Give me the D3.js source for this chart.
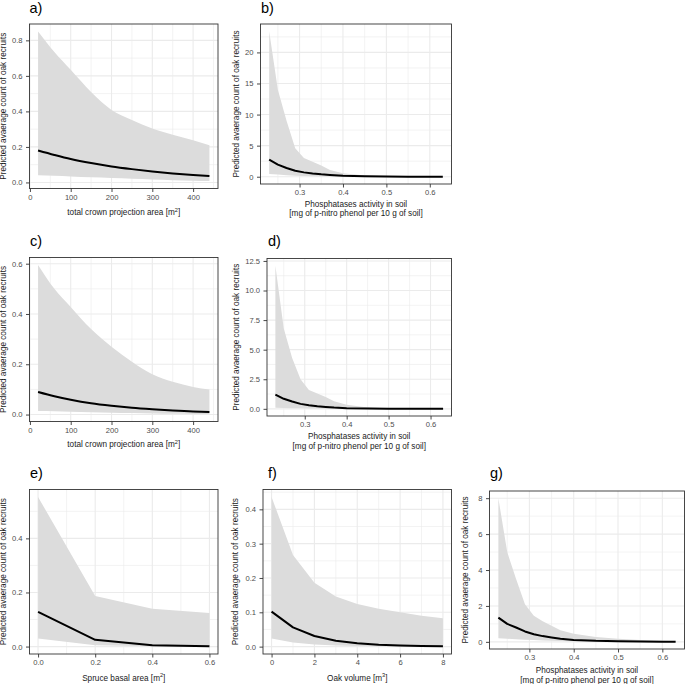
<!DOCTYPE html>
<html><head><meta charset="utf-8">
<script src="https://cdn.jsdelivr.net/npm/d3@7"></script>
<style>
body{margin:0;background:#fff}
svg{display:block}
text{font-family:"Liberation Sans",Arial,Helvetica,sans-serif}
</style></head>
<body><svg id="chart" width="685" height="684"></svg>
<script>
// ---------------- data ----------------
const X_CROWN = [20, 60, 100, 150, 200, 250, 300, 350, 400, 440];
const A_FIT   = [0.180, 0.155, 0.132, 0.109, 0.090, 0.075, 0.062, 0.051, 0.042, 0.036];
const A_LOWER = [0.040, 0.037, 0.034, 0.029, 0.025, 0.021, 0.017, 0.013, 0.010, 0.008];
const A_UPPER = [0.850, 0.734, 0.634, 0.509, 0.408, 0.352, 0.304, 0.269, 0.238, 0.209];

const C_FIT   = [0.090, 0.073, 0.059, 0.045, 0.035, 0.027, 0.021, 0.016, 0.012, 0.010];
const C_LOWER = [0.014, 0.013, 0.011, 0.009, 0.007, 0.006, 0.004, 0.003, 0.0025, 0.002];
const C_UPPER = [0.595, 0.500, 0.428, 0.340, 0.270, 0.210, 0.160, 0.130, 0.110, 0.100];

const X_PHOS  = [0.23, 0.25, 0.27, 0.29, 0.31, 0.33, 0.35, 0.37, 0.40, 0.45, 0.50, 0.55, 0.60, 0.63];
const B_FIT   = [2.75, 1.95, 1.40, 0.95, 0.70, 0.52, 0.38, 0.28, 0.17, 0.07, 0.03, 0.012, 0.005, 0.003];
const B_LOWER = [0.45, 0.35, 0.25, 0.17, 0.12, 0.08, 0.05, 0.03, 0.015, 0.005, 0.002, 0.001, 0, 0];
const B_UPPER = [23.4, 14.0, 9.0, 4.6, 3.0, 2.4, 1.8, 1.1, 0.55, 0.20, 0.08, 0.03, 0.01, 0.01];

const D_FIT   = [1.20, 0.85, 0.62, 0.42, 0.30, 0.22, 0.16, 0.11, 0.06, 0.025, 0.010, 0.004, 0.002, 0.001];
const D_LOWER = [0.10, 0.08, 0.06, 0.045, 0.03, 0.02, 0.015, 0.01, 0.005, 0.002, 0.001, 0, 0, 0];
const D_UPPER = [12.1, 6.8, 4.3, 2.5, 1.6, 1.3, 1.0, 0.65, 0.35, 0.12, 0.04, 0.015, 0.005, 0.003];

const G_FIT   = [1.35, 1.00, 0.80, 0.58, 0.42, 0.32, 0.24, 0.17, 0.11, 0.055, 0.028, 0.014, 0.007, 0.005];
const G_LOWER = [0.20, 0.17, 0.14, 0.12, 0.10, 0.08, 0.06, 0.05, 0.035, 0.02, 0.01, 0.005, 0.003, 0.002];
const G_UPPER = [8.0, 5.0, 3.5, 2.1, 1.45, 1.15, 0.9, 0.65, 0.45, 0.27, 0.17, 0.10, 0.06, 0.04];

const X_SPRUCE = [0, 0.2, 0.4, 0.6];
const E_FIT    = [0.128, 0.025, 0.005, 0.001];
const E_LOWER  = [0.030, 0.005, 0.001, 0.0002];
const E_UPPER  = [0.553, 0.187, 0.140, 0.124];

const X_OAKVOL = [0, 1, 2, 3, 4, 5, 6, 7, 8];
const F_FIT    = [0.102, 0.056, 0.031, 0.017, 0.010, 0.0055, 0.003, 0.0017, 0.001];
const F_LOWER  = [0.024, 0.012, 0.006, 0.003, 0.002, 0.001, 0.0007, 0.0004, 0.0003];
const F_UPPER  = [0.436, 0.267, 0.186, 0.146, 0.124, 0.110, 0.100, 0.090, 0.083];

// tick values / labels
const XT_CROWN = [0, 100, 200, 300, 400],   XL_CROWN = ["0", "100", "200", "300", "400"];
const XT_PHOS  = [0.3, 0.4, 0.5, 0.6],      XL_PHOS  = ["0.3", "0.4", "0.5", "0.6"];
const XT_SPRUCE = [0, 0.2, 0.4, 0.6],       XL_SPRUCE = ["0.0", "0.2", "0.4", "0.6"];
const XT_OAKVOL = [0, 2, 4, 6, 8],          XL_OAKVOL = ["0", "2", "4", "6", "8"];
const YT_A = [0, 0.2, 0.4, 0.6, 0.8],       YL_A = ["0.0", "0.2", "0.4", "0.6", "0.8"];
const YT_B = [0, 5, 10, 15, 20],            YL_B = ["0", "5", "10", "15", "20"];
const YT_C = [0, 0.2, 0.4, 0.6],            YL_C = ["0.0", "0.2", "0.4", "0.6"];
const YT_D = [0, 2.5, 5, 7.5, 10, 12.5],    YL_D = ["0.0", "2.5", "5.0", "7.5", "10.0", "12.5"];
const YT_E = [0, 0.2, 0.4],                 YL_E = ["0.0", "0.2", "0.4"];
const YT_F = [0, 0.1, 0.2, 0.3, 0.4],       YL_F = ["0.0", "0.1", "0.2", "0.3", "0.4"];
const YT_G = [0, 2, 4, 6, 8],               YL_G = ["0", "2", "4", "6", "8"];

const Y_TITLE = "Predicted avaerage count of oak recruits";
const T_CROWN = ["total crown projection area [m", "2", "]"];
const T_PHOS = ["Phosphatases activity in soil", "[mg of p-nitro phenol per 10 g of soil]"];
const T_SPRUCE = ["Spruce basal area [m", "2", "]"];
const T_OAKVOL = ["Oak volume [m", "3", "]"];

// ---------------- layout ----------------
const panels = [
  {tag:"a)", tagX:29.5, tagY:13, box:[29.5,218,24,188.5], x:X_CROWN, fit:A_FIT, lo:A_LOWER, hi:A_UPPER, xt:XT_CROWN, xl:XL_CROWN, yt:YT_A, yl:YL_A, smooth:true, xtitle:T_CROWN, sup:true, ytX:6, xtY:[215]},
  {tag:"b)", tagX:261, tagY:13, box:[260.5,451.5,24,184], x:X_PHOS, fit:B_FIT, lo:B_LOWER, hi:B_UPPER, xt:XT_PHOS, xl:XL_PHOS, yt:YT_B, yl:YL_B, smooth:false, xtitle:T_PHOS, sup:false, ytX:239, xtY:[206.5,215.5]},
  {tag:"c)", tagX:30, tagY:245.5, box:[29.5,218,257.5,421.5], x:X_CROWN, fit:C_FIT, lo:C_LOWER, hi:C_UPPER, xt:XT_CROWN, xl:XL_CROWN, yt:YT_C, yl:YL_C, smooth:true, xtitle:T_CROWN, sup:true, ytX:6, xtY:[447]},
  {tag:"d)", tagX:268, tagY:245.5, box:[267,451.5,258.5,416], x:X_PHOS, fit:D_FIT, lo:D_LOWER, hi:D_UPPER, xt:XT_PHOS, xl:XL_PHOS, yt:YT_D, yl:YL_D, smooth:false, xtitle:T_PHOS, sup:false, ytX:239, xtY:[439,448.5]},
  {tag:"e)", tagX:30, tagY:477.5, box:[29.5,218,489.5,654], x:X_SPRUCE, fit:E_FIT, lo:E_LOWER, hi:E_UPPER, xt:XT_SPRUCE, xl:XL_SPRUCE, yt:YT_E, yl:YL_E, smooth:false, xtitle:T_SPRUCE, sup:true, ytX:6, xtY:[680.5]},
  {tag:"f)", tagX:268, tagY:477.5, box:[263,451.5,489.5,654], x:X_OAKVOL, fit:F_FIT, lo:F_LOWER, hi:F_UPPER, xt:XT_OAKVOL, xl:XL_OAKVOL, yt:YT_F, yl:YL_F, smooth:false, xtitle:T_OAKVOL, sup:true, ytX:238, xtY:[680.5]},
  {tag:"g)", tagX:490, tagY:478, box:[489.5,684.5,491,649], x:X_PHOS, fit:G_FIT, lo:G_LOWER, hi:G_UPPER, xt:XT_PHOS, xl:XL_PHOS, yt:YT_G, yl:YL_G, smooth:false, xtitle:T_PHOS, sup:false, ytX:468, xtY:[673,682.5]}
];

const svg = d3.select("#chart");
svg.append("rect").attr("width",685).attr("height",684).attr("fill","#fff");

function expand(ext){ const r = ext[1]-ext[0]; return [ext[0]-0.05*r, ext[1]+0.05*r]; }
function minors(t, dom){
  const step = t[1]-t[0], out=[];
  for(let i=-1;i<t.length;i++){ const v=t[0]+(i+0.5)*step; if(v>=dom[0]&&v<=dom[1]) out.push(v); }
  return out;
}

panels.forEach((p,pi)=>{
  const [x0,x1,y0,y1] = p.box;
  const xDom = expand(d3.extent(p.x));
  const yDom = expand([d3.min(p.lo), d3.max(p.hi)]);
  const x = d3.scaleLinear().domain(xDom).range([x0,x1]);
  const y = d3.scaleLinear().domain(yDom).range([y1,y0]);
  const g = svg.append("g");
  const clipId = "clip"+pi;
  g.append("clipPath").attr("id",clipId).append("rect").attr("x",x0).attr("y",y0).attr("width",x1-x0).attr("height",y1-y0);
  const grid = g.append("g").attr("clip-path",`url(#${clipId})`);
  minors(p.xt, xDom).forEach(v=>grid.append("line").attr("x1",x(v)).attr("x2",x(v)).attr("y1",y0).attr("y2",y1).attr("stroke","#ebebeb").attr("stroke-width",0.6));
  minors(p.yt, yDom).forEach(v=>grid.append("line").attr("y1",y(v)).attr("y2",y(v)).attr("x1",x0).attr("x2",x1).attr("stroke","#ebebeb").attr("stroke-width",0.6));
  p.xt.forEach(v=>grid.append("line").attr("x1",x(v)).attr("x2",x(v)).attr("y1",y0).attr("y2",y1).attr("stroke","#ebebeb").attr("stroke-width",1.1));
  p.yt.forEach(v=>grid.append("line").attr("y1",y(v)).attr("y2",y(v)).attr("x1",x0).attr("x2",x1).attr("stroke","#ebebeb").attr("stroke-width",1.1));

  const rows = p.x.map((xv,i)=>({x:xv, fit:p.fit[i], lo:p.lo[i], hi:p.hi[i]}));
  const curve = p.smooth ? d3.curveMonotoneX : d3.curveLinear;
  grid.append("path").datum(rows)
    .attr("d", d3.area().x(d=>x(d.x)).y0(d=>y(d.lo)).y1(d=>y(d.hi)).curve(curve))
    .attr("fill","#dcdcdc");
  grid.append("path").datum(rows)
    .attr("d", d3.line().x(d=>x(d.x)).y(d=>y(d.fit)).curve(curve))
    .attr("fill","none").attr("stroke","#000").attr("stroke-width",2).attr("stroke-linejoin","round").attr("stroke-linecap","butt");

  g.append("rect").attr("x",x0).attr("y",y0).attr("width",x1-x0).attr("height",y1-y0)
    .attr("fill","none").attr("stroke","#333").attr("stroke-width",0.9);

  const ax = g.append("g").attr("transform",`translate(0,${y1})`)
    .call(d3.axisBottom(x).tickValues(p.xt).tickFormat((d,i)=>p.xl[i]).tickSize(3.5).tickPadding(2.5));
  const ay = g.append("g").attr("transform",`translate(${x0},0)`)
    .call(d3.axisLeft(y).tickValues(p.yt).tickFormat((d,i)=>p.yl[i]).tickSize(3.5).tickPadding(3.5));
  [ax,ay].forEach(a=>{
    a.select(".domain").remove();
    a.selectAll(".tick line").attr("stroke","#333").attr("stroke-width",0.9);
    a.selectAll(".tick text").attr("fill","#4d4d4d").style("font-size","7.6px").style("font-family",'"Liberation Sans",Arial,sans-serif');
  });

  const cy = (y0+y1)/2;
  g.append("text").attr("transform",`translate(${p.ytX},${cy}) rotate(-90)`)
    .attr("text-anchor","middle").style("font-size","8.2px").attr("fill","#1a1a1a").text(Y_TITLE);

  const cx = (x0+x1)/2;
  if(p.sup){
    const t = g.append("text").attr("x",cx).attr("y",p.xtY[0]).attr("text-anchor","middle").style("font-size","8.2px").attr("fill","#1a1a1a");
    t.append("tspan").text(p.xtitle[0]);
    t.append("tspan").attr("dy",-3.2).style("font-size","5.6px").text(p.xtitle[1]);
    t.append("tspan").attr("dy",3.2).text(p.xtitle[2]);
  } else {
    p.xtitle.forEach((s,i)=>{
      g.append("text").attr("x",cx).attr("y",p.xtY[i]).attr("text-anchor","middle").style("font-size","8.2px").attr("fill","#1a1a1a").text(s);
    });
  }

  g.append("text").attr("x",p.tagX).attr("y",p.tagY).style("font-size","14.5px").attr("fill","#000").text(p.tag);
});
</script>
</body></html>
